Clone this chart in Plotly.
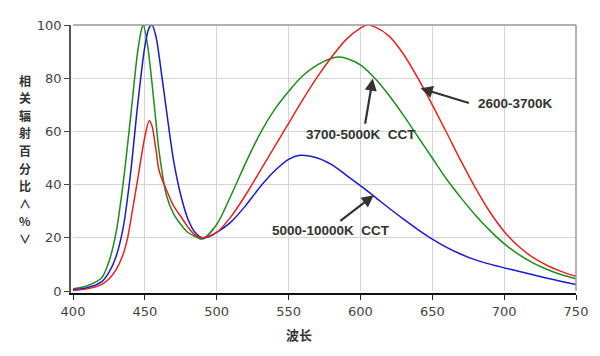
import plotly.graph_objects as go

# ---- data ----
blue_x = [400, 410, 420, 425, 430, 435, 440, 445, 450, 453, 455, 458, 460, 465, 470, 475, 480, 485, 490, 495,
          500, 510, 520, 530, 540, 550, 558, 570, 580, 590, 600, 610, 620, 630, 640, 650, 660, 670, 680, 690,
          700, 710, 720, 730, 740, 750]
blue_y = [0.5, 1.2, 3.5, 7, 13, 24, 44, 70, 92, 99, 100, 95, 88, 68, 49, 36, 27, 22, 20, 20.5,
          22, 26, 32, 39, 45, 49.5, 51, 50, 47.5, 43.6, 39.6, 35.4, 31.1, 27, 23.1, 19.5, 16.4, 13.8, 11.7, 10.1,
          8.7, 7.4, 6.1, 4.8, 3.6, 2.4]

green_x = [400, 410, 420, 425, 430, 435, 440, 445, 448, 449, 452, 455, 458, 460, 465, 470, 475, 480, 485, 490,
           500, 510, 520, 530, 540, 550, 560, 570, 580, 585, 590, 600, 610, 620, 630, 640, 650, 660, 670, 680,
           690, 700, 710, 720, 730, 740, 750]
green_y = [0.8, 2, 5, 11, 22, 41, 65, 90, 99, 100, 92, 78, 62, 52, 36, 29, 25, 22, 20.5, 19.5,
           25, 36, 48, 59, 68, 75, 81, 85, 87.5, 88, 87.5, 85, 80, 73.5, 66, 58, 50, 42, 35, 28.5,
           22.8, 17.8, 13.8, 10.6, 8.1, 6.1, 4.6]

red_x = [400, 410, 420, 425, 430, 435, 438, 440, 445, 450, 453, 455, 458, 460, 465, 470, 475, 480, 485, 490,
         500, 510, 520, 530, 540, 550, 560, 570, 580, 590, 600, 605, 610, 620, 630, 640, 650, 660, 670, 680,
         690, 700, 710, 720, 730, 740, 750]
red_y = [0.2, 0.8, 2.5, 4.5, 8, 14, 20, 26, 42, 58, 64, 62, 52, 45, 38, 32, 28, 24, 21, 20,
         22, 28, 36, 45, 54, 63, 72, 80.5, 88, 94.5, 98.8, 100, 99.3, 95.8, 89, 80, 70, 59.5, 48.8, 38.8,
         29.8, 22.4, 16.8, 12.6, 9.6, 7.3, 5.5]

x_ticks = [400, 450, 500, 550, 600, 650, 700, 750]
y_ticks = [0, 20, 40, 60, 80, 100]

labels = ["2600-3700K", "3700-5000K  CCT", "5000-10000K  CCT"]
y_title = "相关辐射百分比∧%∨"
x_title = "波长"

fig = go.Figure()
for xs, ys, col in [(green_x, green_y, "#1e8c1e"), (blue_x, blue_y, "#1a1acc"), (red_x, red_y, "#e62222")]:
    fig.add_trace(go.Scatter(x=xs, y=ys, mode="lines", line=dict(color=col, width=1.5, shape="spline", smoothing=0.8),
                             showlegend=False, hoverinfo="skip"))

tickfont = dict(family="DejaVu Sans", size=13, color="#444")
fig.update_xaxes(range=[400, 750], tickvals=x_ticks, showgrid=True, gridcolor="#d4d4d4", gridwidth=1,
                 ticks="outside", ticklen=5, tickcolor="#222", showline=True, linecolor="#111", linewidth=2,
                 tickfont=tickfont, zeroline=False)
fig.update_yaxes(range=[0, 100], tickvals=y_ticks, showgrid=True, gridcolor="#d4d4d4", gridwidth=1,
                 ticks="outside", ticklen=5, tickcolor="#444", showline=True, linecolor="#555", linewidth=1.5,
                 tickfont=tickfont, zeroline=False)

# top and right frame
fig.add_shape(type="line", xref="paper", yref="paper", x0=0, x1=1, y0=1, y1=1, line=dict(color="#999", width=1.5))
fig.add_shape(type="line", xref="paper", yref="paper", x0=1, x1=1, y0=0, y1=1, line=dict(color="#999", width=1.5))

afont = dict(family="Liberation Sans", size=13.5, color="#333")
# arrows (head on curve, tail near label)
arrows = [(641.9, 76.2, 676.5, 70.5), (608.6, 79.9, 603.1, 62.3), (609.3, 36.0, 585.0, 25.9)]
for hx, hy, tx, ty in arrows:
    fig.add_annotation(x=hx, y=hy, ax=tx, ay=ty, xref="x", yref="y", axref="x", ayref="y", text="",
                       showarrow=True, arrowhead=2, arrowsize=1.1, arrowwidth=2.2, arrowcolor="#333")
text_pos = [(707.7, 70.5), (600.3, 58.9), (579.5, 22.9)]
for (tx, ty), lab in zip(text_pos, labels):
    fig.add_annotation(x=tx, y=ty, xref="x", yref="y", text="<b>" + lab + "</b>", showarrow=False, font=afont)

# vertical y-axis title, one character per line
W, H, L, T = 505, 266, 73, 25
for i, ch in enumerate(y_title):
    py = 80 + i * 17.6
    fig.add_annotation(xref="paper", yref="paper", x=(25 - L) / W, y=(T + H - py) / H, text="<b>" + ch + "</b>",
                       showarrow=False, font=dict(family="Noto Sans CJK SC", size=12, color="#333"),
                       xanchor="center", yanchor="middle", borderpad=0)
fig.add_annotation(xref="paper", yref="paper", x=(300 - L) / W, y=-(335 - (T + H)) / H, text="<b>" + x_title + "</b>",
                   showarrow=False, font=dict(family="Noto Sans CJK SC", size=13, color="#333"),
                   xanchor="center", yanchor="middle")

fig.update_layout(width=600, height=356, margin=dict(l=L, r=600 - L - W, t=T, b=356 - T - H, pad=2),
                  paper_bgcolor="white", plot_bgcolor="white")
fig.write_html("out.html", config={"displayModeBar": False},
               post_script="document.body.style.margin='0';document.body.style.padding='0';")
